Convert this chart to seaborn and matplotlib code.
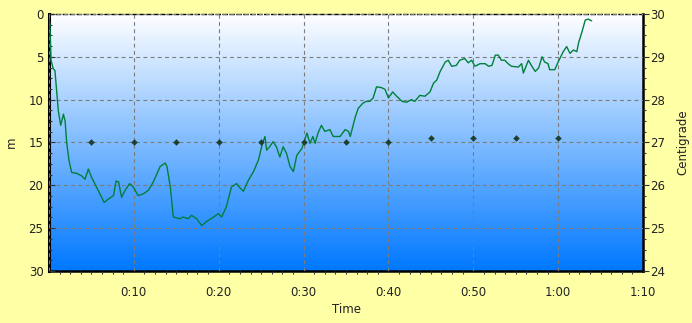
import numpy as np
import pandas as pd
import matplotlib
matplotlib.use("Agg")
import matplotlib.pyplot as plt
from matplotlib.ticker import FuncFormatter, MultipleLocator
from matplotlib.colors import LinearSegmentedColormap
import seaborn as sns

# depth profile (minutes, metres)
time_min = [0.0, 0.12, 0.24, 0.5, 0.7, 0.9, 1.1, 1.38, 1.7, 1.9, 2.08, 2.36, 2.67, 3.26, 3.85,
            4.24, 4.64, 5.03, 5.8, 6.5, 7.0, 7.6, 7.9, 8.2, 8.56, 8.96, 9.5, 9.94, 10.5, 11.1,
            11.7, 12.3, 13.1, 13.7, 13.9, 14.3, 14.65, 15.4, 15.8, 16.4, 16.8, 17.4, 18.0,
            18.6, 19.4, 19.95, 20.35, 20.9, 21.5, 22.1, 22.5, 22.9, 23.5, 24.1, 24.7, 25.1,
            25.45, 25.65, 26.0, 26.4, 26.8, 27.2, 27.6, 28.0, 28.4, 28.8, 29.2, 29.8, 30.4,
            30.75, 31.1, 31.35, 31.7, 32.1, 32.5, 33.1, 33.5, 34.3, 34.9, 35.3, 35.5, 36.1,
            36.45, 37.0, 37.4, 37.8, 38.2, 38.6, 39.2, 39.6, 40.0, 40.5, 40.97, 41.6, 42.15,
            42.7, 43.1, 43.7, 44.3, 44.9, 45.3, 45.7, 46.1, 46.7, 47.05, 47.45, 48.0, 48.4,
            49.0, 49.4, 49.8, 50.2, 50.8, 51.4, 51.8, 52.2, 52.6, 52.95, 53.3, 53.7, 54.1,
            54.5, 55.3, 55.7, 55.9, 56.5, 56.9, 57.3, 57.7, 58.1, 58.4, 58.8, 59.0, 59.6,
            60.0, 60.6, 61.0, 61.4, 61.8, 62.2, 62.4, 62.8, 63.2, 63.55, 63.95]
depth_m = [0.5, 1.55, 5.4, 6.4, 6.6, 8.9, 11.3, 13.0, 11.7, 12.5, 15.0, 17.1, 18.5, 18.6, 18.9,
           19.3, 18.1, 19.1, 20.6, 22.0, 21.6, 21.2, 19.5, 19.6, 21.4, 20.6, 19.8, 20.2, 21.2, 21.0,
           20.6, 19.6, 17.8, 17.4, 17.8, 20.2, 23.7, 23.9, 23.7, 23.9, 23.5, 23.9, 24.7,
           24.2, 23.7, 23.3, 23.7, 22.5, 20.2, 19.8, 20.3, 20.7, 19.4, 18.4, 17.0, 15.3,
           14.3, 15.9, 15.5, 14.9, 15.5, 16.7, 15.5, 16.3, 17.8, 18.4, 16.5, 15.7, 13.9,
           15.1, 14.3, 15.1, 13.9, 13.0, 13.7, 13.5, 14.3, 14.3, 13.5, 13.7, 14.3, 12.0,
           11.0, 10.4, 10.2, 10.2, 9.8, 8.5, 8.6, 8.8, 9.8, 9.1, 9.6, 10.2, 10.3,
           10.0, 10.2, 9.5, 9.6, 9.1, 8.1, 7.7, 6.7, 5.6, 5.4, 6.1, 6.0, 5.4,
           5.2, 5.7, 5.4, 6.1, 5.8, 5.8, 6.1, 6.0, 4.8, 4.8, 5.4, 5.4, 5.8,
           6.1, 6.2, 5.8, 6.9, 5.4, 6.1, 6.7, 6.3, 5.0, 5.6, 5.8, 6.5, 6.5,
           5.6, 4.4, 3.8, 4.6, 4.2, 4.4, 3.4, 2.1, 0.7, 0.6, 0.8]

# temperature samples (minutes, centigrade)
temp_time = [5, 10, 15, 20, 25, 30, 35, 40, 45, 50, 55, 60]
temp_c = [27.0, 27.0, 27.0, 27.0, 27.0, 27.0, 27.0, 27.0, 27.1, 27.1, 27.1, 27.1]

x_ticks = [0, 10, 20, 30, 40, 50, 60, 70]

sns.set_theme(style="white")
plt.rcParams['font.family'] = ['DejaVu Sans']

BG = '#FFFFA6'
fig = plt.figure(figsize=(6.92, 3.23), dpi=100, facecolor=BG)
ax = fig.add_axes([0.0708, 0.161, 0.8584, 0.7957])

# gradient background
cmap = LinearSegmentedColormap.from_list('g', ['#FFFFFF', '#0078FF'])
grad = np.linspace(0, 1, 256).reshape(-1, 1)
ax.imshow(grad, cmap=cmap, aspect='auto', extent=[0, 1, 0, 1], origin='upper',
          transform=ax.transAxes, zorder=0)

df = pd.DataFrame({'t': time_min, 'd': depth_m})
sns.lineplot(data=df, x='t', y='d', ax=ax, color='#00803A', linewidth=1.0,
             estimator=None, sort=False, zorder=3)
ax.set_xlim(0, 70)
ax.set_ylim(30, 0)
ax.set_xticks(x_ticks)
ax.xaxis.set_minor_locator(MultipleLocator(1.25))
ax.yaxis.set_major_locator(MultipleLocator(5))
ax.yaxis.set_minor_locator(MultipleLocator(1.25))
ax.xaxis.set_major_formatter(FuncFormatter(lambda v, p: '' if v == 0 else f"{int(v)//60}:{int(v)%60:02d}"))
ax.grid(True, which='major', color='#7C7C7C', linestyle=(0, (3.5, 3)), linewidth=0.8)
ax.set_axisbelow(False)
for l in ax.get_xgridlines() + ax.get_ygridlines():
    l.set_zorder(1)
ax.set_xlabel('Time', fontsize=8.5, color='#222222', labelpad=3)
ax.set_ylabel('m', fontsize=8.5, color='#222222', labelpad=8)
ax.tick_params(axis='both', which='major', labelsize=8.5, labelcolor='#222222')
ax.tick_params(axis='x', which='major', direction='out', length=5, width=0.8, color='#333333', pad=6)
ax.tick_params(axis='x', which='minor', direction='out', length=2, width=0.8, color='#333333', bottom=True)
ax.tick_params(axis='y', which='major', direction='in', length=4, width=0.8, color='#333333', pad=4, left=True)
ax.tick_params(axis='y', which='minor', direction='in', length=2, width=0.8, color='#333333', left=True)

ax.spines['left'].set_linewidth(2.2)
ax.spines['bottom'].set_linewidth(1.8)
ax.spines['right'].set_linewidth(1.8)
ax.spines['top'].set_linewidth(1.0)
ax.spines['top'].set_linestyle((0, (3, 2)))
for s in ax.spines.values():
    s.set_color('black')

ax2 = ax.twinx()
tdf = pd.DataFrame({'t': temp_time, 'c': temp_c})
sns.scatterplot(data=tdf, x='t', y='c', ax=ax2, marker='D', s=9, color='#1F3F2F',
                edgecolor='#1F3F2F', linewidth=0.3, zorder=4)
ax2.set_ylim(24, 30)
ax2.set_xlim(0, 70)
ax2.yaxis.set_major_locator(MultipleLocator(1))
ax2.yaxis.set_minor_locator(MultipleLocator(0.25))
ax2.set_ylabel('Centigrade', fontsize=8.5, color='#222222', labelpad=8)
ax2.tick_params(axis='y', which='major', direction='out', length=4, width=0.8, color='#333333',
                labelsize=8.5, labelcolor='#222222', pad=1, right=True)
ax2.tick_params(axis='y', which='minor', direction='out', length=2, width=0.8, color='#333333', right=True)
for s in ax2.spines.values():
    s.set_visible(False)

fig.savefig('out.png', dpi=100, facecolor=BG)
